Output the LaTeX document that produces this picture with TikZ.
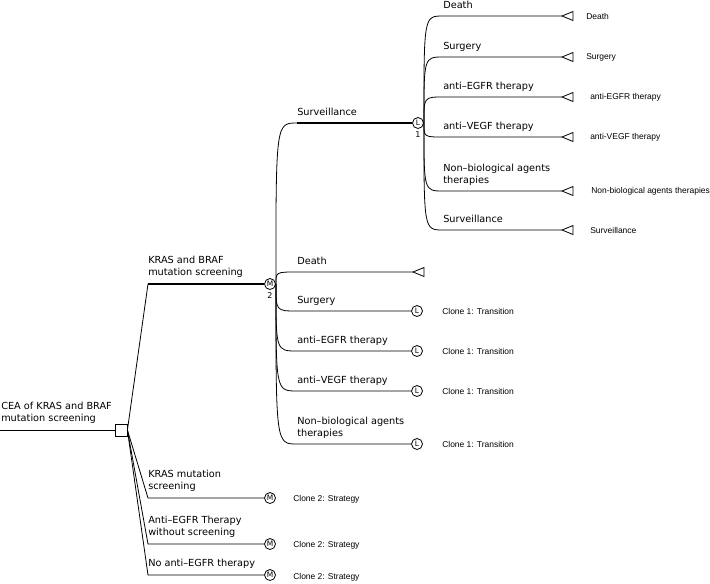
\documentclass[tikz,border=0pt]{standalone}
\usepackage{fontspec}
\setmainfont{DejaVu Sans}
\newfontfamily\smallfont{Liberation Sans}
\newcommand\brc[3]{\draw[edge] (#1.east) .. controls (#1.east |- #2) .. (#2) -- (#3);}
\newcommand\termtri[1]{\draw[edge] (#1) -- ++(11,-4.5) -- ++(0,9) -- cycle;}
\begin{document}
\begin{tikzpicture}[x=0.75pt,y=-0.75pt,
  lab/.style={anchor=south west, inner sep=0pt, text depth=0pt, align=left, font=\fontsize{7.3}{9}\selectfont},
  rlab/.style={anchor=west, inner sep=0pt, font=\smallfont\fontsize{6.35}{7.5}\selectfont},
  num/.style={inner sep=0pt, font=\fontsize{6}{6}\selectfont},
  chance/.style={circle, draw, line width=0.6pt, minimum size=8.25pt, inner sep=0pt, font=\fontsize{5.6}{5.6}\selectfont},
  dec/.style={rectangle, draw, line width=0.6pt, minimum size=9pt, inner sep=0pt},
  edge/.style={line width=0.6pt},
  thick edge/.style={line width=2.2pt}
]
\useasboundingbox (0,0) rectangle (710,583);

% root
\node[dec] (root) at (121,430) {};
\coordinate (r0) at (0,430);
\draw[edge] (r0) -- (root);
\node[lab] (rootlab) at (1,422) {CEA of KRAS and BRAF\\mutation screening};

% level 1
\node[chance] (m2) at (270,284) {M};
\node[num] (m2n) at (270,296) {2};
\node[chance] (mb) at (270,498) {M};
\node[chance] (mc) at (270,544) {M};
\node[chance] (md) at (270,575) {M};
\coordinate (ha) at (148,284);
\coordinate (hb) at (148,498);
\coordinate (hc) at (148,544);
\coordinate (hd) at (148,575);
\draw[edge] (root.east) -- (ha);
\draw[thick edge] (ha) -- (m2);
\draw[edge] (root.east) -- (hb) -- (mb);
\draw[edge] (root.east) -- (hc) -- (mc);
\draw[edge] (root.east) -- (hd) -- (md);
\node[lab] (la) at (148,276) {KRAS and BRAF\\mutation screening};
\node[lab] (lb) at (148,490) {KRAS mutation\\screening};
\node[lab] (lc) at (148,536) {Anti–EGFR Therapy\\without screening};
\node[lab] (ld) at (148,567) {No anti–EGFR therapy};
\node[rlab] (cb) at (293,499) {Clone 2: Strategy};
\node[rlab] (cc) at (293,545) {Clone 2: Strategy};
\node[rlab] (cd) at (293,577) {Clone 2: Strategy};

% level 2 (children of M2)
\node[chance] (l1) at (418,123) {L};
\node[num] (l1n) at (418,135) {1};
\coordinate (hs) at (297,123);
\draw[edge] (m2.east) .. controls (m2.east |- hs) .. (hs);
\draw[thick edge] (hs) -- (l1);
\node[lab] (ls) at (297,115.5) {Surveillance};

\coordinate (tdeath) at (413,272);
\coordinate (hdeath) at (297,272);
\brc{m2}{hdeath}{tdeath}
\termtri{tdeath}
\node[lab] (ldeath) at (297,264.5) {Death};

\node[chance] (lsur) at (417,311) {L};
\coordinate (hsur) at (297,311);
\brc{m2}{hsur}{lsur}
\node[lab] (tsur) at (297,303.5) {Surgery};
\node[rlab] (csur) at (442,311) {Clone 1: Transition};

\node[chance] (legfr) at (417,351) {L};
\coordinate (hegfr) at (297,351);
\brc{m2}{hegfr}{legfr}
\node[lab] (tegfr) at (297,343.5) {anti–EGFR therapy};
\node[rlab] (cegfr) at (442,351) {Clone 1: Transition};

\node[chance] (lvegf) at (417,391) {L};
\coordinate (hvegf) at (297,391);
\brc{m2}{hvegf}{lvegf}
\node[lab] (tvegf) at (297,383.5) {anti–VEGF therapy};
\node[rlab] (cvegf) at (442,391) {Clone 1: Transition};

\node[chance] (lnb) at (417,444) {L};
\coordinate (hnb) at (297,444);
\brc{m2}{hnb}{lnb}
\node[lab] (tnb) at (297,436.5) {Non–biological agents\\therapies};
\node[rlab] (cnb) at (442,444) {Clone 1: Transition};

% level 3 (children of L1)
\coordinate (h1) at (443,16);  \coordinate (t1) at (562,16);
\coordinate (h2) at (443,57);  \coordinate (t2) at (562,57);
\coordinate (h3) at (443,97);  \coordinate (t3) at (562,97);
\coordinate (h4) at (443,137); \coordinate (t4) at (562,137);
\coordinate (h5) at (443,191); \coordinate (t5) at (562,191);
\coordinate (h6) at (443,230); \coordinate (t6) at (562,230);
\brc{l1}{h1}{t1} \termtri{t1}
\brc{l1}{h2}{t2} \termtri{t2}
\brc{l1}{h3}{t3} \termtri{t3}
\brc{l1}{h4}{t4} \termtri{t4}
\brc{l1}{h5}{t5} \termtri{t5}
\brc{l1}{h6}{t6} \termtri{t6}
\node[lab] (a1) at (443,8.5) {Death};
\node[lab] (a2) at (443,49.5) {Surgery};
\node[lab] (a3) at (443,89.5) {anti–EGFR therapy};
\node[lab] (a4) at (443,129.5) {anti–VEGF therapy};
\node[lab] (a5) at (443,183.5) {Non–biological agents\\therapies};
\node[lab] (a6) at (443,222.5) {Surveillance};
\node[rlab] (b1) at (586,16) {Death};
\node[rlab] (b2) at (586,57) {Surgery};
\node[rlab] (b3) at (590,97) {anti-EGFR therapy};
\node[rlab] (b4) at (590,137) {anti-VEGF therapy};
\node[rlab] (b5) at (591,191) {Non-biological agents therapies};
\node[rlab] (b6) at (590,230) {Surveillance};
\end{tikzpicture}
\end{document}
